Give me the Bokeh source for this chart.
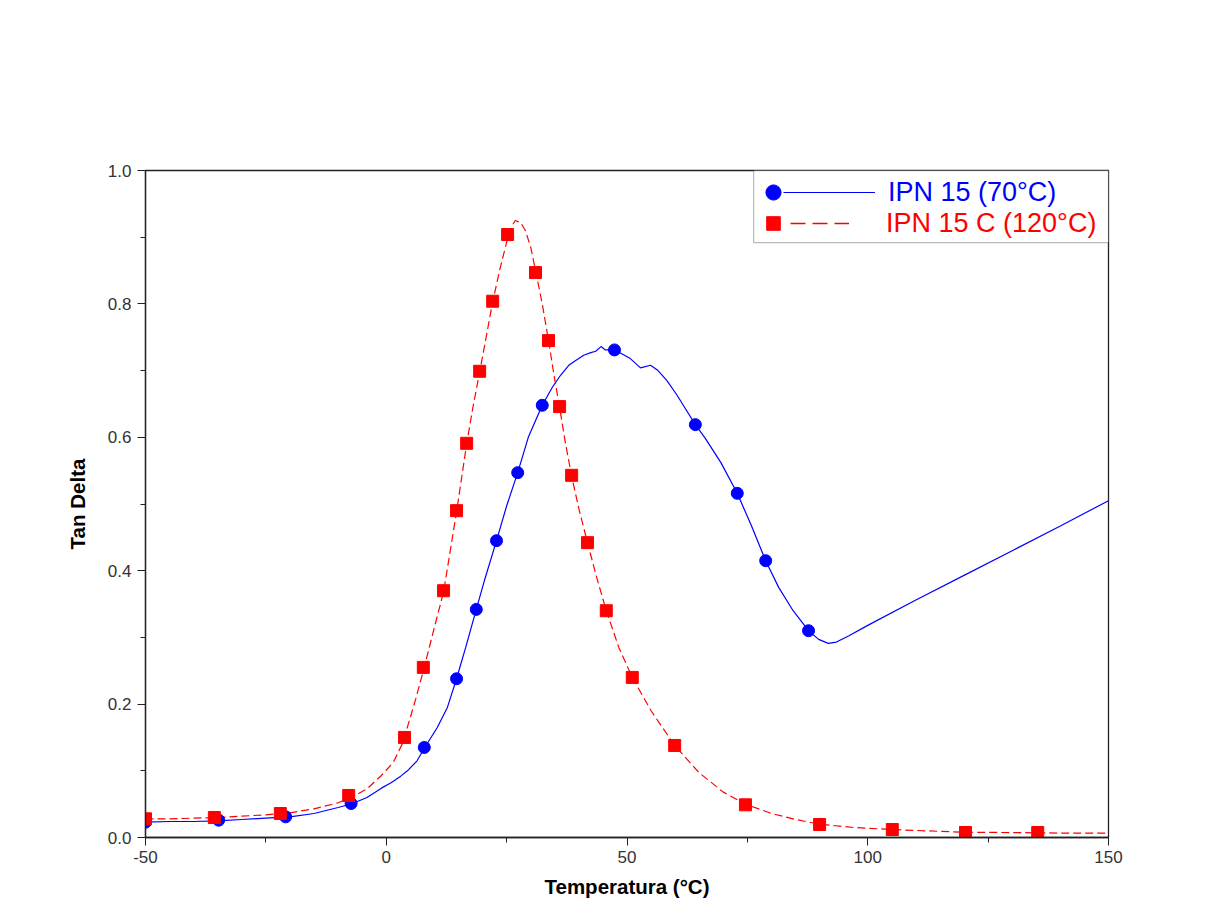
from bokeh.plotting import figure
from bokeh.models import (Range1d, FixedTicker, PrintfTickFormatter, Legend, LegendItem,
                          BoxAnnotation, Label)
from bokeh.embed import file_html
from bokeh.resources import INLINE

# ---- data ----
blue_T = [-50, -45, -40, -35, -30, -25, -20, -15, -10, -7, -4, -1, 1, 3, 4.4, 6.4, 8, 10.6, 12.7,
          14.6, 16.5, 18.7, 20.5, 22.9, 25, 27.3, 29.5, 32.4, 34.5, 36.2, 37.9, 39.5, 41.0, 42.5,
          43.5, 44.6, 45.5, 47.4, 49, 50.7, 52.8, 54.9, 56.3, 58.3, 60.4, 62.3, 64.2, 66.3, 69.5,
          72.9, 75.8, 78.8, 81.5, 84.5, 87.7, 89.8, 91.8, 93.5, 96, 100, 110, 120, 130, 140, 150]
blue_tan = [0.023, 0.024, 0.024, 0.025, 0.027, 0.029, 0.031, 0.036, 0.045, 0.051, 0.060, 0.074,
            0.082, 0.092, 0.100, 0.115, 0.135, 0.165, 0.195, 0.238, 0.285, 0.342, 0.388, 0.445,
            0.497, 0.547, 0.600, 0.648, 0.675, 0.693, 0.708, 0.716, 0.723, 0.727, 0.729, 0.736,
            0.731, 0.731, 0.725, 0.718, 0.704, 0.708, 0.701, 0.685, 0.663, 0.641, 0.619, 0.598,
            0.562, 0.516, 0.468, 0.415, 0.375, 0.340, 0.310, 0.297, 0.291, 0.293, 0.302, 0.318,
            0.356, 0.393, 0.430, 0.467, 0.505]

red_T = [-50, -45, -40, -35, -30, -25, -20, -15, -10, -7, -4, -1, 1.5, 3.3, 5.0, 6.1, 7.7, 10,
         11.9, 13.3, 14.6, 16.7, 18, 19.4, 20.8, 22.1, 23.7, 25.2, 26.2, 26.8, 27.9, 28.9, 30.0,
         31.0, 32.4, 33.7, 34.8, 36.0, 37.2, 38.5, 40.1, 41.8, 43.7, 45.7, 48.3, 51.1, 55, 59.9,
         65, 70, 74.6, 80, 85, 90, 97, 105, 112, 120, 128, 135, 142, 150]
red_tan = [0.028, 0.028, 0.029, 0.030, 0.032, 0.034, 0.037, 0.043, 0.052, 0.061, 0.073, 0.093,
           0.113, 0.140, 0.180, 0.207, 0.250, 0.315, 0.368, 0.430, 0.488, 0.590, 0.645, 0.698,
           0.752, 0.803, 0.855, 0.898, 0.918, 0.925, 0.922, 0.910, 0.885, 0.850, 0.800, 0.745,
           0.695, 0.645, 0.592, 0.542, 0.490, 0.442, 0.390, 0.340, 0.285, 0.240, 0.190, 0.138,
           0.097, 0.068, 0.050, 0.036, 0.027, 0.020, 0.015, 0.012, 0.010, 0.008, 0.0075, 0.007,
           0.0065, 0.0065]

blue_mk_T = [-50, -34.8, -20.9, -7.3, 7.9, 14.6, 18.7, 22.9, 27.3, 32.4, 47.4, 64.2, 72.9, 78.8, 87.7]
blue_mk_tan = [0.023, 0.026, 0.031, 0.051, 0.135, 0.238, 0.342, 0.445, 0.547, 0.648, 0.731,
               0.619, 0.516, 0.415, 0.310]

red_mk_T = [-50, -35.7, -22, -7.8, 3.8, 7.7, 11.9, 14.6, 16.7, 19.4, 22.1, 25.2, 31.0, 33.7,
            36.0, 38.5, 41.8, 45.7, 51.1, 59.9, 74.6, 90, 105.1, 120.3, 135.3]
red_mk_tan = [0.028, 0.030, 0.036, 0.063, 0.150, 0.255, 0.370, 0.490, 0.591, 0.699, 0.804,
              0.904, 0.847, 0.745, 0.646, 0.543, 0.442, 0.340, 0.240, 0.138, 0.049, 0.0195,
              0.012, 0.0075, 0.0075]

x_ticks = [-50, 0, 50, 100, 150]
x_minor = [-25, 25, 75, 125]
y_ticks = [0.0, 0.2, 0.4, 0.6, 0.8, 1.0]
y_minor = [0.1, 0.3, 0.5, 0.7, 0.9]

label_blue = "IPN 15 (70°C)"
label_red = "IPN 15 C (120°C)"

FONT = "Liberation Sans"

p = figure(width=1202, height=905, output_backend="svg", toolbar_location=None,
           x_range=Range1d(-50, 150), y_range=Range1d(0, 1),
           min_border_left=145, min_border_right=94, min_border_top=170, min_border_bottom=68,
           background_fill_color="white", border_fill_color="white")
p.xgrid.visible = False
p.ygrid.visible = False
p.outline_line_color = "#222222"
p.outline_line_width = 1.3

p.xaxis.ticker = FixedTicker(ticks=x_ticks, minor_ticks=x_minor)
p.yaxis.ticker = FixedTicker(ticks=y_ticks, minor_ticks=y_minor)
p.xaxis.formatter = PrintfTickFormatter(format="%d")
p.yaxis.formatter = PrintfTickFormatter(format="%.1f")
p.xaxis.axis_label = "Temperatura (°C)"
p.yaxis.axis_label = "Tan Delta"
for ax in (p.xaxis, p.yaxis):
    ax.axis_line_color = "#222222"
    ax.axis_line_width = 1.3
    ax.major_tick_line_color = "#222222"
    ax.minor_tick_line_color = "#222222"
    ax.major_tick_in = 0
    ax.major_tick_out = 8
    ax.minor_tick_in = 0
    ax.minor_tick_out = 5
    ax.major_label_text_font = FONT
    ax.major_label_text_font_size = "17px"
    ax.major_label_text_color = "#333333"
    ax.axis_label_text_font = FONT
    ax.axis_label_text_font_size = "20.5px"
    ax.axis_label_text_font_style = "bold"
    ax.axis_label_text_color = "#000000"
p.xaxis.major_label_standoff = 5
p.yaxis.major_label_standoff = 6
p.xaxis.axis_label_standoff = 9
p.yaxis.axis_label_standoff = 16

bl = p.line(blue_T, blue_tan, line_color="#0000ff", line_width=1.2)
rl = p.line(red_T, red_tan, line_color="#ff0000", line_width=1.2, line_dash="8 4")
bc = p.scatter(blue_mk_T, blue_mk_tan, marker="circle", size=12,
               fill_color="#0000ff", line_color="#0000ff")
rs = p.scatter(red_mk_T, red_mk_tan, marker="square", size=12,
               fill_color="#ff0000", line_color="#ff0000")
# hidden copy of the red series, used only for its legend sample (longer dashes)
rl_sample = p.line(red_T, red_tan, line_color="#ff0000", line_width=1.3, line_dash="15 7",
                   visible=False)

# legend frame
box = BoxAnnotation(left=76.3, right=150, bottom=0.892, top=1.0,
                    fill_color="white", fill_alpha=1.0,
                    line_color="#222222", line_width=1.3)
p.add_layout(box)

common = dict(padding=0, margin=0, border_line_alpha=0, background_fill_alpha=0,
              inactive_fill_alpha=0,
              label_text_font=FONT, label_text_font_size="27px")
mark_common = dict(padding=0, margin=0, border_line_alpha=0, background_fill_alpha=0,
                   label_standoff=0, label_width=0, label_height=0, label_text_font_size="1px")

leg_mark_blue = Legend(items=[LegendItem(label=" ", renderers=[bc])],
                       location=(609, 626), glyph_width=38, glyph_height=38, **mark_common)
leg_mark_red = Legend(items=[LegendItem(label=" ", renderers=[rs])],
                      location=(611, 597), glyph_width=34, glyph_height=34, **mark_common)
leg_blue = Legend(items=[LegendItem(label=label_blue, renderers=[bl])],
                  location=(638, 625), glyph_width=92, glyph_height=40,
                  label_standoff=13, label_text_color="#0000ff", **common)
leg_red = Legend(items=[LegendItem(label=label_red, renderers=[rl_sample])],
                 location=(645, 594), glyph_width=59, glyph_height=40,
                 label_standoff=37, label_text_color="#ff0000", **common)
p.add_layout(leg_blue)
p.add_layout(leg_red)
p.add_layout(leg_mark_blue)
p.add_layout(leg_mark_red)

p.add_layout(Label(x=150, y=0, x_offset=93, y_offset=-47, text="Universal V2.6D TA Instruments",
                   text_align="right", text_baseline="middle", text_font=FONT,
                   text_font_size="15.5px", text_color="#222222"))

open("out.html", "w").write(file_html(p, INLINE))
